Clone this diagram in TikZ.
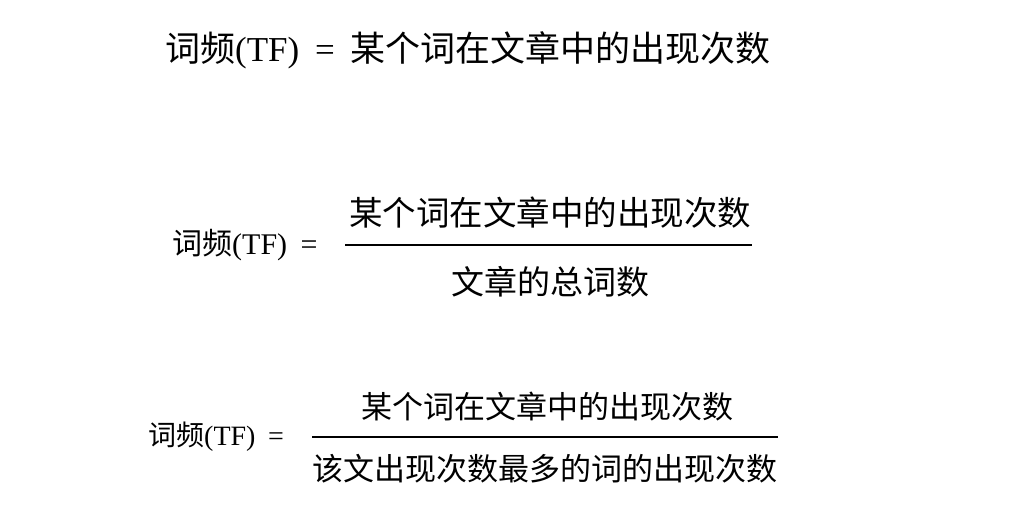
\documentclass[tikz,border=0pt]{standalone}
\usepackage{fontspec}
\newfontfamily\cjk{Noto Sans CJK SC}
\newfontfamily\ser{Liberation Serif}
\newcommand{\myeq}{\hspace{0.45em}=\hspace{0.45em}}
\begin{document}
\begin{tikzpicture}[x=1pt,y=-1pt,every node/.style={inner sep=0pt,anchor=west}]
\useasboundingbox[fill=white] (0,0) rectangle (1025,507);
% formula 1
\node[font=\fontsize{35}{40}\selectfont] (a1) at (165,50) {\cjk 词频\ser(TF)\myeq\cjk 某个词在文章中的出现次数};
% formula 2
\node[font=\fontsize{30}{35}\selectfont] (l2) at (172,245) {\cjk 词频\ser(TF)\myeq};
\coordinate (s2) at (345,245); \coordinate (e2) at (752,245);
\draw[line width=1.2pt] (s2) -- (e2);
\node[anchor=center,font=\fontsize{33.5}{38}\selectfont] (n2) at (550,213) {\cjk 某个词在文章中的出现次数};
\node[anchor=center,font=\fontsize{33}{38}\selectfont] (d2) at (550,282) {\cjk 文章的总词数};
% formula 3
\node[font=\fontsize{28}{33}\selectfont] (l3) at (148,437) {\cjk 词频\ser(TF)\myeq};
\coordinate (s3) at (312,437); \coordinate (e3) at (778,437);
\draw[line width=1.2pt] (s3) -- (e3);
\node[anchor=center,font=\fontsize{31}{36}\selectfont] (n3) at (547,407) {\cjk 某个词在文章中的出现次数};
\node[anchor=center,font=\fontsize{31}{36}\selectfont] (d3) at (545,469) {\cjk 该文出现次数最多的词的出现次数};
\end{tikzpicture}
\end{document}
